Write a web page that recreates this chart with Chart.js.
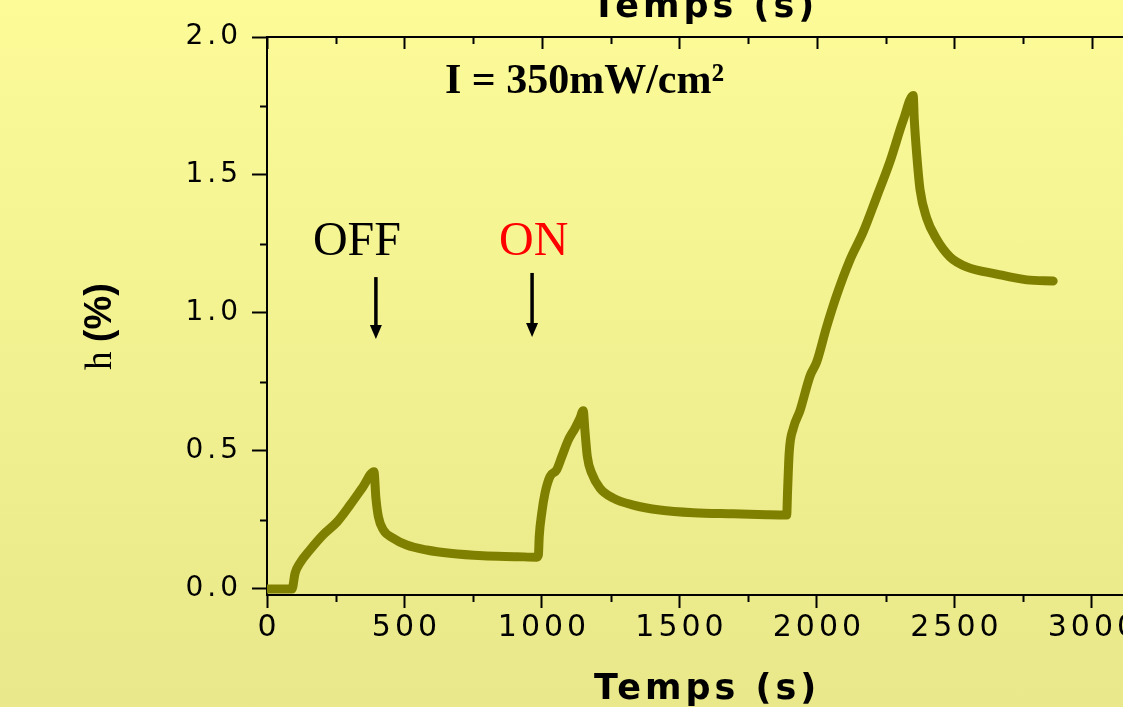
<!DOCTYPE html>
<html>
<head>
<meta charset="utf-8">
<script src="https://cdn.jsdelivr.net/npm/chart.js@4.4.1/dist/chart.umd.min.js"></script>
<style>
  html, body { margin: 0; padding: 0; }
  body {
    width: 1123px;
    height: 707px;
    overflow: hidden;
    background: linear-gradient(#fcfb98, #e9e88a);
  }
  #chart { display: block; }
</style>
</head>
<body>
<canvas id="chart" width="1300" height="707"></canvas>
<script>
// temps (s) et h (%)
const times = [
  0, 40, 80, 91, 102, 120, 156, 204, 255, 302, 349, 389,
  396, 405, 423, 459, 508, 581, 665, 786, 908, 981,
  987, 990, 999, 1011, 1029, 1053, 1072, 1096, 1120, 1138, 1150,
  1156, 1165, 1181, 1211, 1259, 1332, 1429, 1550, 1696, 1817, 1890,
  1893, 1899, 1914, 1938, 1975, 1999, 2035, 2072, 2120, 2168, 2217, 2265, 2314, 2350,
  2354, 2363, 2375, 2399, 2435, 2484, 2544, 2653, 2763, 2859
];
const heights = [
  0, 0, 0, 0, 0.057, 0.094, 0.141, 0.196, 0.243, 0.304, 0.370, 0.425,
  0.330, 0.262, 0.214, 0.184, 0.159, 0.141, 0.129, 0.120, 0.117, 0.115,
  0.123, 0.190, 0.274, 0.347, 0.407, 0.431, 0.479, 0.540, 0.582, 0.618, 0.646,
  0.576, 0.479, 0.419, 0.365, 0.329, 0.304, 0.286, 0.276, 0.272, 0.269, 0.268,
  0.350, 0.493, 0.582, 0.645, 0.772, 0.822, 0.949, 1.065, 1.192, 1.293, 1.420, 1.547, 1.699, 1.788,
  1.700, 1.572, 1.446, 1.344, 1.268, 1.203, 1.167, 1.141, 1.120, 1.116
];

const xTickValues = [0, 500, 1000, 1500, 2000, 2500, 3000];
const yTickValues = [0, 0.5, 1.0, 1.5, 2.0];

const X_MAX = 3113;
const Y_MIN = -0.022;
const Y_MAX = 2.0;

const SANS = '"Liberation Sans", Arial, sans-serif';
const WIDE = '"DejaVu Sans", Verdana, sans-serif';
const SERIF = '"Liberation Serif", "Times New Roman", serif';

function line(ctx, x0, y0, x1, y1) {
  ctx.beginPath();
  ctx.moveTo(x0, y0);
  ctx.lineTo(x1, y1);
  ctx.stroke();
}

function arrow(ctx, x, y0, y1) {
  ctx.lineWidth = 3.5;
  line(ctx, x, y0, x, y1 - 10);
  ctx.beginPath();
  ctx.moveTo(x, y1);
  ctx.lineTo(x - 6, y1 - 14);
  ctx.lineTo(x + 6, y1 - 14);
  ctx.closePath();
  ctx.fill();
}

const decor = {
  id: "decor",
  beforeDraw(chart) {
    // espacement des chiffres comme sur l'original
    chart.ctx.letterSpacing = "4px";
  },
  afterDraw(chart) {
    const { ctx, chartArea: a, scales: { x, y } } = chart;
    ctx.save();
    ctx.letterSpacing = "0px";
    ctx.strokeStyle = "#000";
    ctx.fillStyle = "#000";
    ctx.lineWidth = 2;

    // cadre du haut + graduations
    line(ctx, a.left, a.top, a.right, a.top);
    for (let v = 0; v <= X_MAX; v += 250) {
      const px = Math.round(x.getPixelForValue(v)) + 0.5;
      const major = v % 500 === 0;
      line(ctx, px, a.top, px, a.top + (major ? 12 : 7));
      if (!major) line(ctx, px, a.bottom, px, a.bottom + 7);
    }
    for (let v = 0.25; v < Y_MAX; v += 0.5) {
      const py = Math.round(y.getPixelForValue(v)) + 0.5;
      line(ctx, a.left - 7, py, a.left, py);
    }

    // titres
    ctx.letterSpacing = "4px";
    ctx.font = "bold 35px " + WIDE;
    ctx.textAlign = "left";
    ctx.textBaseline = "alphabetic";
    ctx.fillText("Temps (s)", a.left + 327, a.bottom + 104);
    ctx.fillText("Temps (s)", a.left + 325, a.top - 20);
    ctx.letterSpacing = "0px";

    ctx.save();
    ctx.translate(a.left - 156, 370);
    ctx.rotate(-Math.PI / 2);
    ctx.font = "37px " + SERIF;
    ctx.fillText("h", 0, 0);
    const hw = ctx.measureText("h ").width;
    ctx.font = "bold 38px " + SANS;
    ctx.fillText("(%)", hw, 0);
    ctx.restore();

    // annotations
    ctx.font = "bold 42px " + SERIF;
    ctx.fillText("I = 350mW/cm\u00b2", x.getPixelForValue(647), y.getPixelForValue(1.797));
    ctx.font = "48px " + SERIF;
    ctx.fillText("OFF", x.getPixelForValue(167), y.getPixelForValue(1.21));
    ctx.fillStyle = "#ff0000";
    ctx.fillText("ON", x.getPixelForValue(844), y.getPixelForValue(1.21));
    ctx.fillStyle = "#000";
    arrow(ctx, x.getPixelForValue(396), y.getPixelForValue(1.13), y.getPixelForValue(0.906));
    arrow(ctx, x.getPixelForValue(964), y.getPixelForValue(1.145), y.getPixelForValue(0.913));
    ctx.restore();
  }
};

new Chart(document.getElementById("chart"), {
  type: "line",
  data: {
    datasets: [{
      data: times.map((t, i) => ({ x: t, y: heights[i] })),
      borderColor: "#808000",
      borderWidth: 9,
      pointRadius: 0,
      cubicInterpolationMode: "monotone",
      borderCapStyle: "round",
      borderJoinStyle: "round",
      fill: false
    }]
  },
  options: {
    responsive: false,
    animation: false,
    devicePixelRatio: 1,
    layout: { padding: { left: 0, top: 37, right: 177, bottom: 0 } },
    plugins: { legend: { display: false }, tooltip: { enabled: false } },
    scales: {
      x: {
        type: "linear",
        position: "bottom",
        min: 0,
        max: X_MAX,
        border: { display: true, color: "#000", width: 2 },
        grid: { drawOnChartArea: false, tickLength: 13, tickWidth: 2, tickColor: "#000" },
        afterBuildTicks: (s) => { s.ticks = xTickValues.map((v) => ({ value: v })); },
        ticks: {
          autoSkip: false,
          maxRotation: 0,
          color: "#000",
          padding: 2,
          labelOffset: 2,
          font: { family: WIDE, size: 30 },
          callback: (v) => String(v)
        },
        afterFit: (s) => { s.height = 112; }
      },
      y: {
        min: Y_MIN,
        max: Y_MAX,
        border: { display: true, color: "#000", width: 2 },
        grid: { drawOnChartArea: false, tickLength: 15, tickWidth: 2, tickColor: "#000" },
        afterBuildTicks: (s) => { s.ticks = yTickValues.map((v) => ({ value: v })); },
        ticks: {
          color: "#000",
          padding: 10,
          font: { family: WIDE, size: 28 },
          callback: (v) => Number(v).toFixed(1)
        },
        afterFit: (s) => { s.width = 267; }
      }
    }
  },
  plugins: [decor]
});
</script>
</body>
</html>
